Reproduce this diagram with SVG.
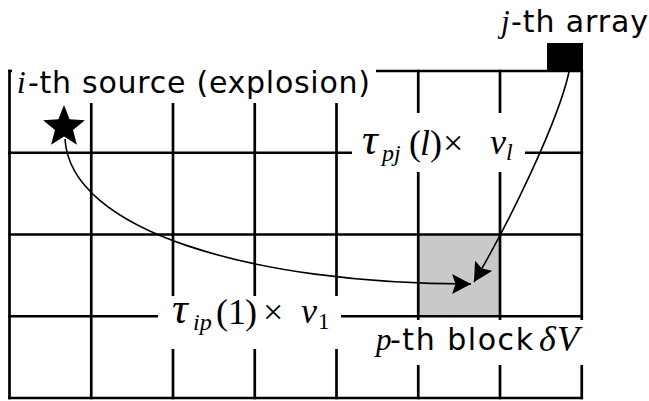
<svg xmlns="http://www.w3.org/2000/svg" width="649" height="401" viewBox="0 0 649 401">
<style>
.g{stroke:#000;stroke-width:2.7;fill:none;stroke-linecap:square}
.box{fill:#fff;stroke:none}
.s{font-family:"DejaVu Sans",Verdana,sans-serif;font-size:30px;fill:#000}
.m{font-family:"Liberation Serif","Times New Roman",serif;font-style:italic;font-size:36px;fill:#000}
.t{font-family:"Liberation Serif","Times New Roman",serif;font-style:italic;font-size:44px;fill:#000}
.u{font-family:"Liberation Serif","Times New Roman",serif;font-size:36px;fill:#000}
.sb{font-family:"Liberation Serif","Times New Roman",serif;font-style:italic;font-size:24px;fill:#000}
.sbu{font-family:"Liberation Serif","Times New Roman",serif;font-size:23px;fill:#000}
.c{fill:none;stroke:#000;stroke-width:1.6}
</style>
<defs>
<marker id="ah" markerUnits="userSpaceOnUse" markerWidth="20" markerHeight="20" viewBox="0 0 18 18" refX="17" refY="9" orient="auto">
<path d="M0,0 L17,9 L0,18 L3,9 z" fill="#000"/>
</marker>
</defs>
<rect width="649" height="401" fill="#fff"/>
<g id="block">
<rect x="418.25" y="234.5" width="81.75" height="81.75" fill="#c9c9c9"/>
</g>
<g id="grid" class="g">
<line x1="9.5" y1="71" x2="581.75" y2="71"/>
<line x1="9.5" y1="152.75" x2="581.75" y2="152.75"/>
<line x1="9.5" y1="234.5" x2="581.75" y2="234.5"/>
<line x1="9.5" y1="316.25" x2="581.75" y2="316.25"/>
<line x1="9.5" y1="398" x2="581.75" y2="398"/>
<line x1="9.5" y1="71" x2="9.5" y2="398"/>
<line x1="91.25" y1="71" x2="91.25" y2="398"/>
<line x1="173" y1="71" x2="173" y2="398"/>
<line x1="254.75" y1="71" x2="254.75" y2="398"/>
<line x1="336.5" y1="71" x2="336.5" y2="398"/>
<line x1="418.25" y1="71" x2="418.25" y2="398"/>
<line x1="500" y1="71" x2="500" y2="398"/>
<line x1="581.75" y1="71" x2="581.75" y2="398"/>
</g>
<g id="label-boxes" class="box">
<rect x="12" y="40" width="364" height="63"/>
<rect x="352" y="113" width="173" height="59"/>
<rect x="158" y="296" width="183" height="53"/>
<rect x="372" y="320" width="224" height="45"/>
</g>
<g id="array">
<rect x="547" y="43" width="36" height="28" fill="#000"/>
<text x="501" y="32" class="m" style="font-size:31px">j</text>
<text x="511" y="32" class="s" textLength="137" lengthAdjust="spacing">-th array</text>
</g>
<g id="source">
<polygon points="64,105 69.58,119.31 84.92,120.2 73.03,129.94 76.93,144.8 64,136.5 51.07,144.8 54.97,129.94 43.08,120.2 58.42,119.31" fill="#000"/>
<text x="17" y="93" class="m" style="font-size:31px">i</text>
<text x="28" y="93" class="s" textLength="342" lengthAdjust="spacing">-th source (explosion)</text>
</g>
<g id="block-label">
<text x="376" y="350" class="m" style="font-size:31px">p</text>
<text x="390" y="350" class="s" textLength="143" lengthAdjust="spacing">-th block</text>
<text x="539" y="351" class="m">δ</text>
<text x="557" y="351" class="m">V</text>
</g>
<g id="label-pj">
<text x="362" y="154" class="t">τ</text>
<text x="382" y="161" class="sb">pj</text>
<text x="409" y="155" class="u">(</text>
<text x="420" y="155" class="m">l</text>
<text x="430" y="155" class="u">)</text>
<text x="443" y="155" class="u">×</text>
<text x="490" y="154" class="m">v</text>
<text x="506" y="160" class="sb">l</text>
</g>
<g id="label-ip">
<text x="172" y="323" class="t">τ</text>
<text x="193" y="330" class="sb">ip</text>
<text x="216" y="324" class="u">(</text>
<text x="228" y="324" class="u">1</text>
<text x="245" y="324" class="u">)</text>
<text x="263" y="324" class="u">×</text>
<text x="301" y="323" class="m">v</text>
<text x="318" y="329" class="sbu">1</text>
</g>
<g id="connectors">
<path class="c" d="M65,139 C70,230 250,284 471,284" marker-end="url(#ah)"/>
<path class="c" d="M569,72 C558,122 509,223 474,282" marker-end="url(#ah)"/>
</g>
</svg>
